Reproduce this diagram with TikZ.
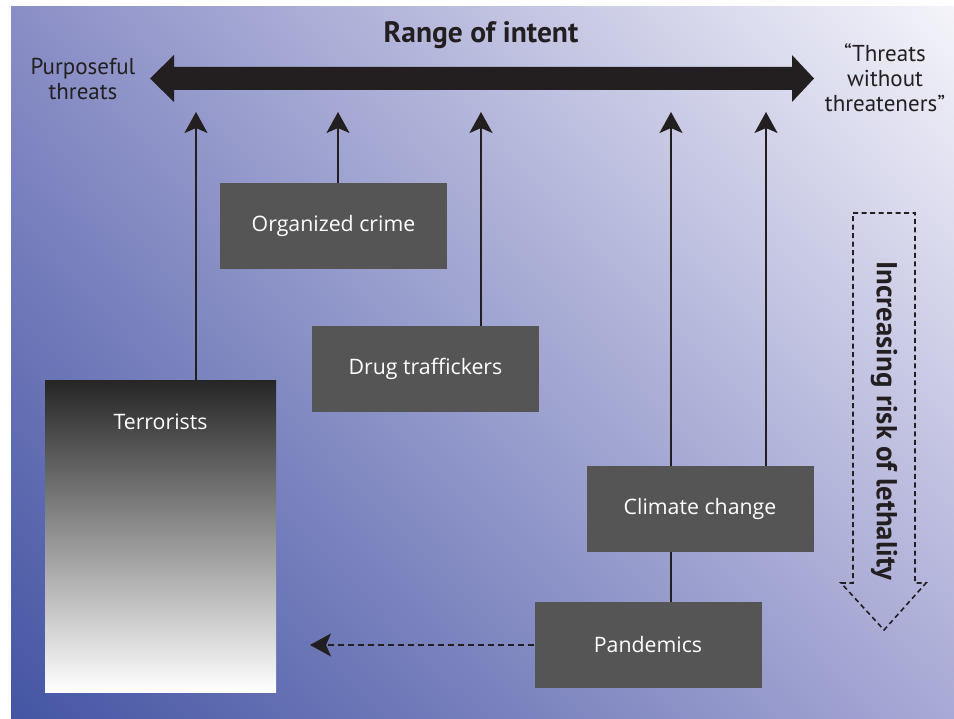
\documentclass[tikz,border=0pt]{standalone}
\usepackage{fontspec}
\setmainfont{Open Sans}
\newfontfamily\sidefont{PT Sans}
\usetikzlibrary{arrows.meta,shadings}
\definecolor{ink}{HTML}{231F20}
\definecolor{boxgray}{HTML}{555556}
\definecolor{bgTL}{HTML}{8A8EC6}
\definecolor{bgTR}{HTML}{F4F4FA}
\definecolor{bgBL}{HTML}{4455A3}
\definecolor{bgBR}{HTML}{A8A9D5}
\tikzset{
  threatbox/.style={draw=none, fill=boxgray, text=white, minimum width=227pt, minimum height=86pt, inner sep=0pt, font=\fontsize{21.3}{25}\selectfont},
  uparrow/.style={draw=ink, line width=2pt, -{Stealth[length=21pt, width=23pt, inset=5pt]}},
  plainline/.style={draw=ink, line width=2pt},
  dasharrow/.style={draw=ink, line width=2pt, dash pattern=on 6pt off 4pt, -{Stealth[length=21pt, width=23pt, inset=5pt]}},
  sidetext/.style={text=ink, align=center, font=\sidefont\fontsize{23}{25}\selectfont},
}
\begin{document}
\begin{tikzpicture}[x=1pt, y=-1pt]
\useasboundingbox (0,0) rectangle (954,719);
% background
\shade[upper left=bgTL, upper right=bgTR, lower left=bgBL, lower right=bgBR] (11,7) rectangle (954,719);

% big double arrow
\fill[ink] (150,78.5) -- (174,55) -- (174,67) -- (792,67) -- (792,55) -- (814,78.5) -- (792,102) -- (792,90) -- (174,90) -- (174,102) -- cycle;

% texts
\node[text=ink, font=\sidefont\bfseries\fontsize{29.5}{32}\selectfont] (title) at (481,35) {Range of intent};
\node[sidetext] (purp) at (83,79) {Purposeful\\threats};
\node[sidetext] (wout) at (885,78) {“Threats\\without\\threateners”};

% dashed down arrow
\draw[ink, line width=1.6pt, dash pattern=on 5pt off 3.5pt, line join=miter]
  (853,213) -- (915,213) -- (915,583) -- (926,583) -- (884,630) -- (841,583) -- (853,583) -- cycle;
\node[text=ink, rotate=-90, font=\sidefont\bfseries\fontsize{28.8}{30}\selectfont] (leth) at (884,421) {Increasing risk of lethality};

% boxes
\node[threatbox] (org) at (333.5,226) {Organized crime};
\node[threatbox] (drug) at (425.5,369) {Drug traffickers};
\node[threatbox] (clim) at (700,509) {Climate change};
\node[threatbox] (pand) at (648,645) {Pandemics};
\node[draw=none, top color=black!85, bottom color=white, minimum width=231pt, minimum height=311pt, inner sep=0pt] (terr) at (160.5,536.5) {};
\node[text=white, font=\fontsize{21.3}{25}\selectfont] (terrlabel) at (160.5,422) {Terrorists};

% arrow tips
\coordinate (tT) at (196,112);
\coordinate (tO) at (338,112);
\coordinate (tD) at (481,112);
\coordinate (tC1) at (671,112);
\coordinate (tC2) at (766,112);
\coordinate (tP) at (310,645);

\draw[uparrow] (tT |- terr.north) -- (tT);
\draw[uparrow] (tO |- org.north) -- (tO);
\draw[uparrow] (tD |- drug.north) -- (tD);
\draw[uparrow] (tC1 |- clim.north) -- (tC1);
\draw[uparrow] (tC2 |- clim.north) -- (tC2);
\draw[plainline] (tC1 |- pand.north) -- (tC1 |- clim.south);
\draw[dasharrow] (pand.west) -- (tP);
\end{tikzpicture}
\end{document}
